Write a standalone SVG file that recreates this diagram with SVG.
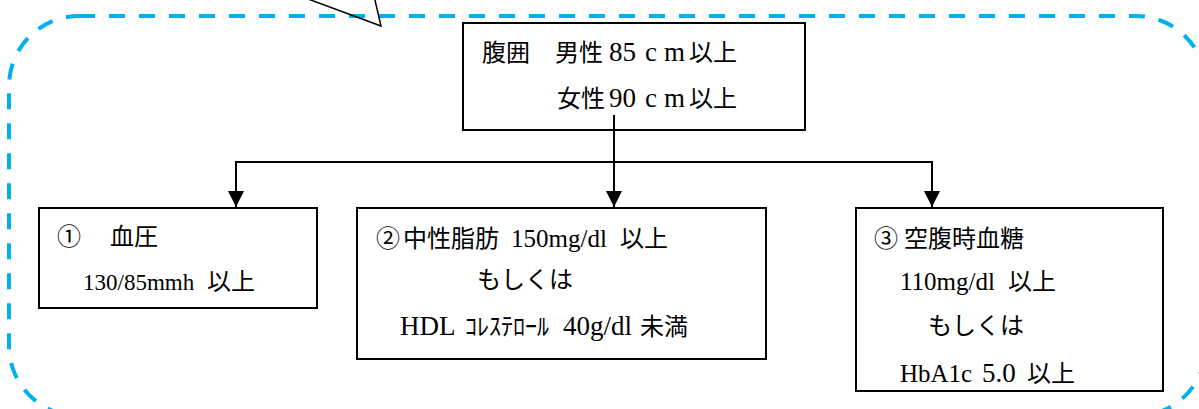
<svg xmlns="http://www.w3.org/2000/svg" width="1199" height="409" viewBox="0 0 1199 409">
<style>
.frame{fill:none;stroke:#00B0F0;stroke-width:4;stroke-dasharray:16 14}
.box{fill:#fff;stroke:#000;stroke-width:2}
.t{font-family:"Liberation Serif","Noto Sans CJK JP",serif;font-size:24px;fill:#000}
.l{font-family:"Liberation Serif",serif;font-size:27px}
.m{font-family:"Liberation Serif",serif;font-size:25px}
.n{font-family:"Liberation Serif",serif;font-size:23px}
.k{font-family:"Noto Sans CJK JP","Liberation Serif",sans-serif;font-size:24px}
.cn{stroke:#000;stroke-width:2;fill:none}
</style>
<defs>
<marker id="ah" markerUnits="userSpaceOnUse" markerWidth="16" markerHeight="16" refX="16" refY="8" orient="auto" viewBox="0 0 16 16">
<path d="M0,0 L16,8 L0,16 z" fill="#000"/>
</marker>
</defs>
<g id="frame">
<rect class="frame" x="9" y="16" width="1197" height="400" rx="70" ry="70"/>
<polyline points="300,-4 381,26 374,-4" fill="none" stroke="#000" stroke-width="1.5"/>
</g>
<g id="connectors">
<polyline class="cn" points="614,115 614,162"/>
<polyline class="cn" points="236,162 932,162"/>
<line class="cn" x1="236" y1="161" x2="236" y2="207" marker-end="url(#ah)"/>
<line class="cn" x1="614" y1="161" x2="614" y2="207" marker-end="url(#ah)"/>
<line class="cn" x1="932" y1="161" x2="932" y2="207" marker-end="url(#ah)"/>
</g>
<g id="node-waist">
<rect class="box" x="463" y="23" width="342" height="107"/>
<polyline class="cn" points="614,115 614,130"/>
<text class="t" y="61"><tspan class="k" x="482">腹囲</tspan><tspan class="k" x="555">男性</tspan><tspan class="l" x="609">85</tspan><tspan class="l" x="645">c</tspan><tspan class="l" x="664">m</tspan><tspan class="k" x="689">以上</tspan></text>
<text class="t" y="107"><tspan class="k" x="557">女性</tspan><tspan class="l" x="609">90</tspan><tspan class="l" x="645">c</tspan><tspan class="l" x="664">m</tspan><tspan class="k" x="689">以上</tspan></text>
</g>
<g id="node-bp">
<rect class="box" x="39" y="208" width="278" height="100"/>
<text class="t" y="245"><tspan class="k" x="57">①</tspan><tspan class="k" x="110">血圧</tspan></text>
<text class="t" y="290"><tspan class="n" x="83">130/85mmh</tspan><tspan class="k" x="207">以上</tspan></text>
</g>
<g id="node-lipid">
<rect class="box" x="357" y="208" width="409" height="151"/>
<text class="t" y="247"><tspan class="k" x="376">②</tspan><tspan class="k" x="403">中性脂肪</tspan><tspan class="m" x="511">150mg/dl</tspan><tspan class="k" x="620">以上</tspan></text>
<text class="t" y="288"><tspan class="k" x="477">もしくは</tspan></text>
<text class="t" y="335"><tspan class="l" x="400">HDL</tspan><tspan class="k" x="465">ｺﾚｽﾃﾛｰﾙ</tspan><tspan class="l" x="563">40g/dl</tspan><tspan class="k" x="640">未満</tspan></text>
</g>
<g id="node-glucose">
<rect class="box" x="856" y="208" width="307" height="183"/>
<text class="t" y="247"><tspan class="k" x="874">③</tspan><tspan class="k" x="904">空腹時血糖</tspan></text>
<text class="t" y="290"><tspan class="m" x="900">110mg/dl</tspan><tspan class="k" x="1008">以上</tspan></text>
<text class="t" y="334"><tspan class="k" x="928">もしくは</tspan></text>
<text class="t" y="382"><tspan class="m" x="900">HbA1c</tspan><tspan class="l" x="982">5.0</tspan><tspan class="k" x="1027">以上</tspan></text>
</g>
</svg>
